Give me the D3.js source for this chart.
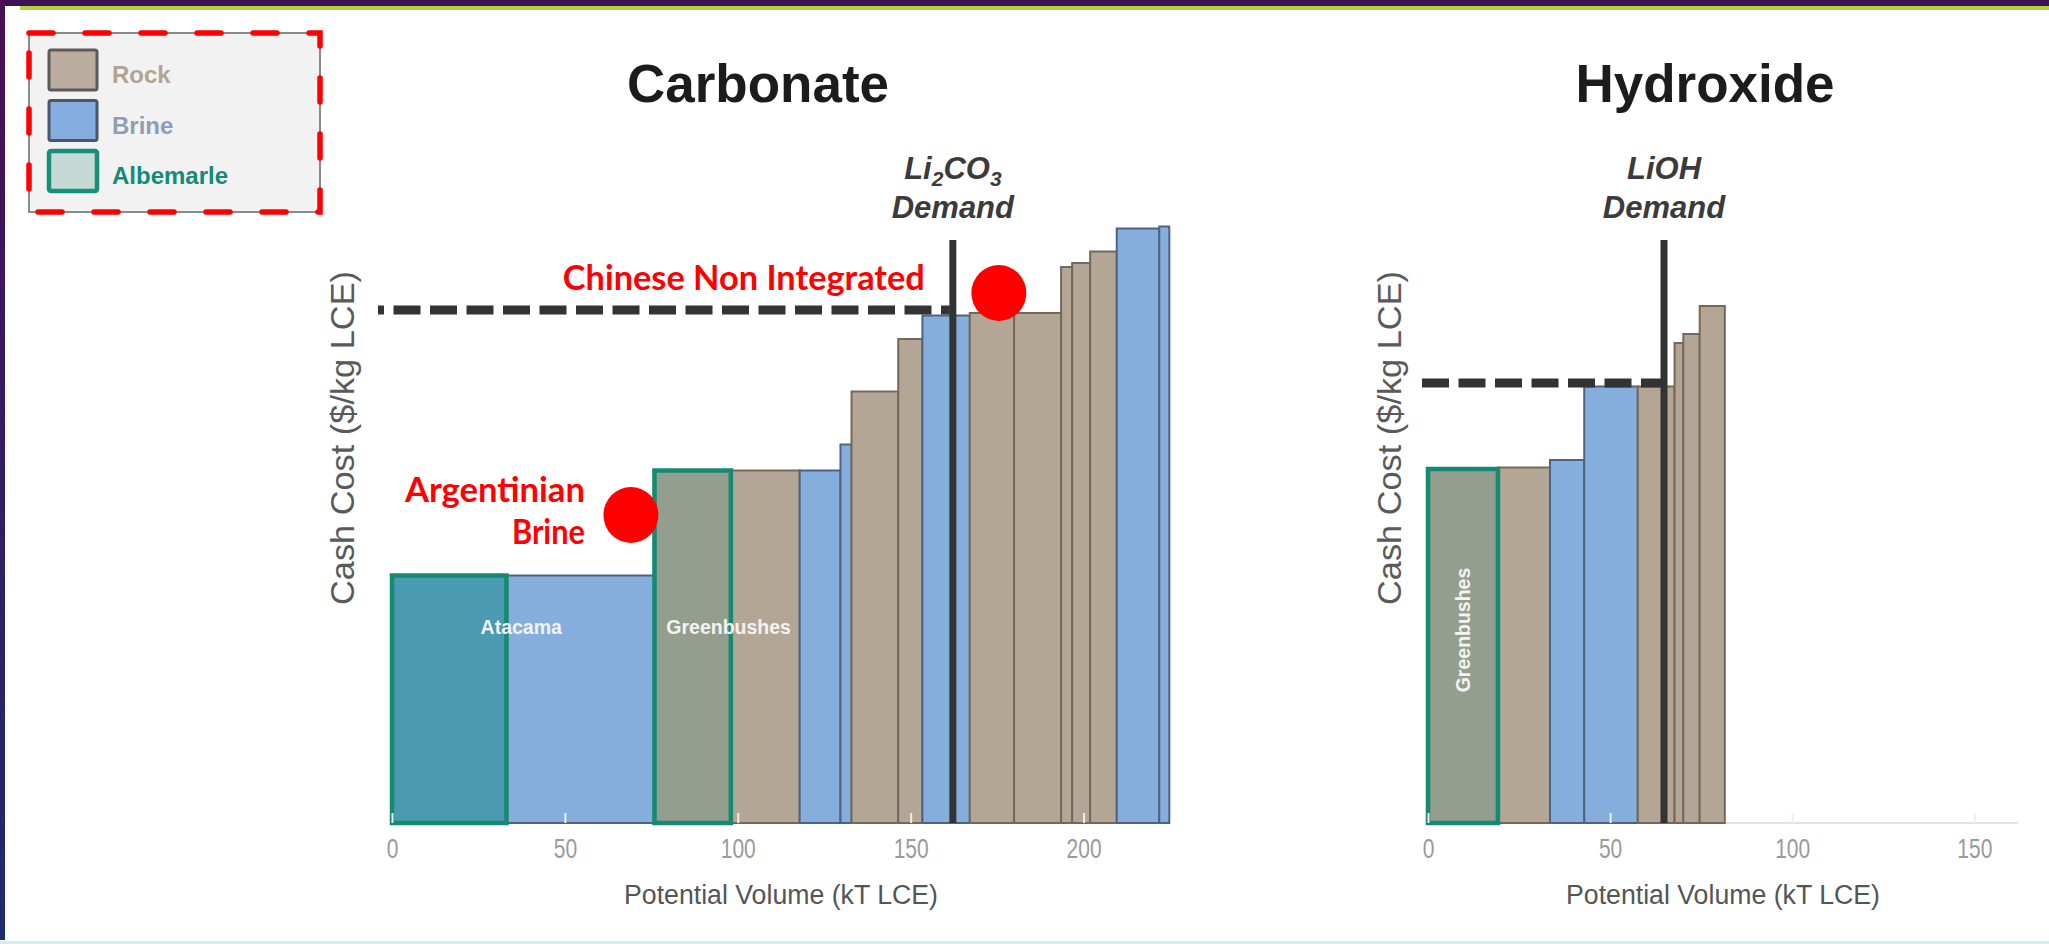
<!DOCTYPE html>
<html>
<head>
<meta charset="utf-8">
<script src="https://cdn.jsdelivr.net/npm/d3@7"></script>
<style>
  html, body { margin: 0; padding: 0; background: #ffffff; overflow: hidden; }
  svg { display: block; }
</style>
</head>
<body>
<svg id="chart" width="2049" height="944"></svg>
<script>
// ---- Carbonate cost curve: each segment is one supply source ----
// width = potential volume (kT LCE), height = cash cost ($/kg LCE)
const carbonateVolume = [33.1, 42.8, 22.1, 19.9, 11.8, 3.2, 13.5, 7.0, 13.7, 12.8, 13.6, 3.2, 5.2, 7.7, 12.3, 2.9];
const carbonateCost   = [4.95, 4.95, 7.05, 7.05, 7.05, 7.57, 8.63, 9.68, 10.15, 10.2, 10.2, 11.12, 11.2, 11.43, 11.89, 11.93];
const carbonateSource = ["Brine", "Brine", "Rock", "Rock", "Brine", "Brine", "Rock", "Rock", "Brine", "Rock", "Rock", "Rock", "Rock", "Rock", "Brine", "Brine"];
const carbonateOwner  = ["Albemarle", "", "Albemarle", "", "", "", "", "", "", "", "", "", "", "", "", ""];
const carbonateAsset  = ["Atacama", "", "Greenbushes", "", "", "", "", "", "", "", "", "", "", "", "", ""];
const carbonateDemand = 162.2;     // kT LCE
const carbonateMarginal = 10.26;   // $/kg LCE at demand
const carbonateTicks = [0, 50, 100, 150, 200];

// ---- Hydroxide cost curve ----
const hydroxideVolume = [19.2, 14.3, 9.4, 14.7, 10.1, 2.4, 4.5, 6.9];
const hydroxideCost   = [7.08, 7.11, 7.26, 8.73, 8.73, 9.6, 9.78, 10.34];
const hydroxideSource = ["Rock", "Rock", "Brine", "Brine", "Rock", "Rock", "Rock", "Rock"];
const hydroxideOwner  = ["Albemarle", "", "", "", "", "", "", ""];
const hydroxideAsset  = ["Greenbushes", "", "", "", "", "", "", ""];
const hydroxideDemand = 64.8;
const hydroxideMarginal = 8.8;
const hydroxideTicks = [0, 50, 100, 150];

// ---- Legend ----
const legendLabels = ["Rock", "Brine", "Albemarle"];

// ---- Callouts ----
const calloutArgentina = { lines: ["Argentinian", "Brine"], volume: 69.1, cost: 6.16 };
const calloutChina = { lines: ["Chinese Non Integrated"], volume: 175.5, cost: 10.6 };

// ---------------- styling ----------------
const FONT = "'Liberation Sans', Arial, sans-serif";
const fillFor = { Rock: "#b4a695", Brine: "#86aedd" };
const strokeFor = { Rock: "#756859", Brine: "#4d6380" };
const albemarleFill = { Rock: "#939e8f", Brine: "#4a9bb1" };
const albemarleStroke = "#148a72";

const svg = d3.select("#chart");

// slide frame
const defs = svg.append("defs");
const lg = defs.append("linearGradient").attr("id", "sideBar").attr("x1", 0).attr("y1", 0).attr("x2", 0).attr("y2", 1);
lg.append("stop").attr("offset", "0%").attr("stop-color", "#4a0f55");
lg.append("stop").attr("offset", "100%").attr("stop-color", "#1f2b6e");
svg.append("rect").attr("x", 0).attr("y", 0).attr("width", 2049).attr("height", 6).attr("fill", "#3d1152");
svg.append("rect").attr("x", 20).attr("y", 6).attr("width", 2029).attr("height", 4).attr("fill", "#b3d13c");
svg.append("rect").attr("x", 0).attr("y", 0).attr("width", 5).attr("height", 940).attr("fill", "url(#sideBar)");
svg.append("rect").attr("x", 0).attr("y", 941).attr("width", 2049).attr("height", 3).attr("fill", "#cdeff3");

// y scale shared by both panels
const y = d3.scaleLinear().domain([0, 12]).range([823, 223]);

function drawPanel(p) {
  const g = svg.append("g");
  const x = d3.scaleLinear().domain(p.domain).range(p.range);
  const ends = d3.cumsum(p.volume);
  const segs = p.volume.map((v, i) => ({
    start: ends[i] - v, end: ends[i], cost: p.cost[i],
    source: p.source[i], albemarle: p.owner[i] === "Albemarle", asset: p.asset[i]
  }));

  // baseline
  g.append("line")
    .attr("x1", x(p.domain[0])).attr("x2", x(p.domain[1]))
    .attr("y1", y(0)).attr("y2", y(0))
    .attr("stroke", "#e2e2e2").attr("stroke-width", 2);

  // Albemarle assets drawn last so their thick outline sits on top
  const ordered = segs.filter(d => !d.albemarle).concat(segs.filter(d => d.albemarle));
  g.selectAll("rect.bar").data(ordered).join("rect")
    .attr("class", "bar")
    .attr("x", d => x(d.start))
    .attr("y", d => y(d.cost))
    .attr("width", d => x(d.end) - x(d.start))
    .attr("height", d => y(0) - y(d.cost))
    .attr("fill", d => d.albemarle ? albemarleFill[d.source] : fillFor[d.source])
    .attr("stroke", d => d.albemarle ? albemarleStroke : strokeFor[d.source])
    .attr("stroke-width", d => d.albemarle ? 4.5 : 2);

  // ticks and tick labels
  const axis = d3.axisBottom(x).tickValues(p.ticks).tickSize(-10).tickPadding(0);
  const ag = g.append("g").attr("transform", `translate(0,${y(0)})`).call(axis);
  ag.select(".domain").remove();
  ag.selectAll(".tick line").attr("stroke", "#eeeeee").attr("stroke-width", 2);
  ag.selectAll(".tick text")
    .attr("y", 35).attr("dy", 0)
    .attr("transform", "scale(0.75,1)")
    .attr("fill", "#9a9a9a")
    .style("font-family", FONT).style("font-size", "28px");

  // asset labels inside Albemarle bars
  segs.filter(d => d.asset).forEach(d => {
    const lab = p.assetLabel[d.asset];
    const cx = (x(d.start) + x(d.end)) / 2 + lab.dx;
    const t = g.append("text")
      .attr("fill", "#f3f3f3").attr("font-weight", 700)
      .style("font-family", FONT).style("font-size", "19.5px")
      .attr("text-anchor", "middle").text(d.asset);
    if (lab.vertical) t.attr("transform", `translate(${cx + 7},${lab.y}) rotate(-90)`);
    else t.attr("x", cx).attr("y", lab.y);
  });

  // marginal cost line up to demand
  g.append("line")
    .attr("x1", x(0) - p.dashLead).attr("x2", x(p.demand) - 3)
    .attr("y1", y(p.marginal)).attr("y2", y(p.marginal))
    .attr("stroke", "#333333").attr("stroke-width", 9)
    .attr("stroke-dasharray", "27 9.5").attr("stroke-dashoffset", p.dashOffset);

  // demand line
  g.append("line")
    .attr("x1", x(p.demand)).attr("x2", x(p.demand))
    .attr("y1", y(11.66)).attr("y2", y(0))
    .attr("stroke", "#333333").attr("stroke-width", 7);

  // demand label
  const dl = g.append("text").attr("text-anchor", "middle")
    .attr("fill", "#3b3b3b").attr("font-weight", 700).attr("font-style", "italic")
    .style("font-family", FONT).style("font-size", "31px");
  dl.append("tspan").attr("x", x(p.demand)).attr("y", 179).each(function () {
    const s = d3.select(this);
    p.demandLabel.forEach(part => {
      s.append("tspan").attr("dy", part.sub ? 7 : (part.after ? -7 : 0))
        .style("font-size", part.sub ? "21px" : "31px").text(part.t);
    });
  });
  dl.append("tspan").attr("x", x(p.demand)).attr("y", 218).text("Demand");

  // title
  g.append("text").attr("x", p.titleX).attr("y", 102).attr("text-anchor", "middle")
    .attr("fill", "#1c1c1c").attr("font-weight", 700)
    .style("font-family", FONT).style("font-size", "53px").text(p.title);

  // axis titles
  g.append("text").attr("x", (p.range[0] + p.range[1]) / 2).attr("y", 904)
    .attr("text-anchor", "middle").attr("fill", "#555555")
    .attr("textLength", 314).attr("lengthAdjust", "spacingAndGlyphs")
    .style("font-family", FONT).style("font-size", "27px")
    .text("Potential Volume (kT LCE)");
  g.append("text").attr("transform", `translate(${x(0) - p.yLabelGap},438) rotate(-90)`)
    .attr("text-anchor", "middle").attr("fill", "#5a5a5a")
    .attr("textLength", 334).attr("lengthAdjust", "spacingAndGlyphs")
    .style("font-family", FONT).style("font-size", "33px")
    .text("Cash Cost ($/kg LCE)");

  return x;
}

const xC = drawPanel({
  domain: [0, 225], range: [392, 1170],
  volume: carbonateVolume, cost: carbonateCost, source: carbonateSource,
  owner: carbonateOwner, asset: carbonateAsset,
  demand: carbonateDemand, marginal: carbonateMarginal, ticks: carbonateTicks,
  assetLabel: { Atacama: { dx: 72, y: 634 }, Greenbushes: { dx: 36, y: 634 } },
  demandLabel: [{ t: "Li" }, { t: "2", sub: true }, { t: "CO", after: true }, { t: "3", sub: true }],
  title: "Carbonate", titleX: 758, yLabelGap: 38, dashLead: 14, dashOffset: 21
});

const xH = drawPanel({
  domain: [0, 162], range: [1428, 2018],
  volume: hydroxideVolume, cost: hydroxideCost, source: hydroxideSource,
  owner: hydroxideOwner, asset: hydroxideAsset,
  demand: hydroxideDemand, marginal: hydroxideMarginal, ticks: hydroxideTicks,
  assetLabel: { Greenbushes: { dx: 0, y: 630, vertical: true } },
  demandLabel: [{ t: "LiOH" }],
  title: "Hydroxide", titleX: 1705, yLabelGap: 27, dashLead: 6, dashOffset: 0
});

// ---- callouts ----
const RED = "#ff0000";
function callout(c, anchorEnd, textLengths, baselines) {
  svg.append("ellipse").attr("cx", xC(c.volume)).attr("cy", y(c.cost))
    .attr("rx", 27.5).attr("ry", 28).attr("fill", RED);
  c.lines.forEach((line, i) => {
    svg.append("text").attr("x", anchorEnd).attr("y", baselines[i])
      .attr("text-anchor", "end").attr("fill", RED).attr("font-weight", 700)
      .attr("textLength", textLengths[i]).attr("lengthAdjust", "spacingAndGlyphs")
      .style("font-family", "Lato, 'Open Sans', sans-serif").style("font-size", "34px")
      .text(line);
  });
}
callout(calloutArgentina, xC(calloutArgentina.volume) - 46, [180, 73], [502, 544]);
callout(calloutChina, xC(calloutChina.volume) - 74, [362], [290]);

// ---- legend ----
const legend = svg.append("g");
legend.append("rect").attr("x", 29).attr("y", 33).attr("width", 291).attr("height", 179)
  .attr("fill", "#f2f2f2").attr("stroke", "#8a8a8a").attr("stroke-width", 2);
const swFill = ["#bcae9f", "#86ade0", "#c5dad5"];
const swStroke = ["#5b5b5b", "#4b5668", "#16907a"];
const swWidth = [3, 3, 4.5];
const txtFill = ["#b2a392", "#8c9fb8", "#158a77"];
legendLabels.forEach((lab, i) => {
  const top = 50 + i * 50.5;
  legend.append("rect").attr("x", 49).attr("y", top).attr("width", 48).attr("height", 40)
    .attr("rx", 2).attr("fill", swFill[i]).attr("stroke", swStroke[i]).attr("stroke-width", swWidth[i]);
  legend.append("text").attr("x", 112).attr("y", top + 33)
    .attr("fill", txtFill[i]).attr("font-weight", 700)
    .style("font-family", FONT).style("font-size", "24px").text(lab);
});
legend.append("path").attr("d", "M29,33 H320 V212 H29 Z")
  .attr("fill", "none").attr("stroke", RED).attr("stroke-width", 5.5)
  .attr("stroke-linecap", "round").attr("stroke-dasharray", "24 32");
</script>
</body>
</html>
